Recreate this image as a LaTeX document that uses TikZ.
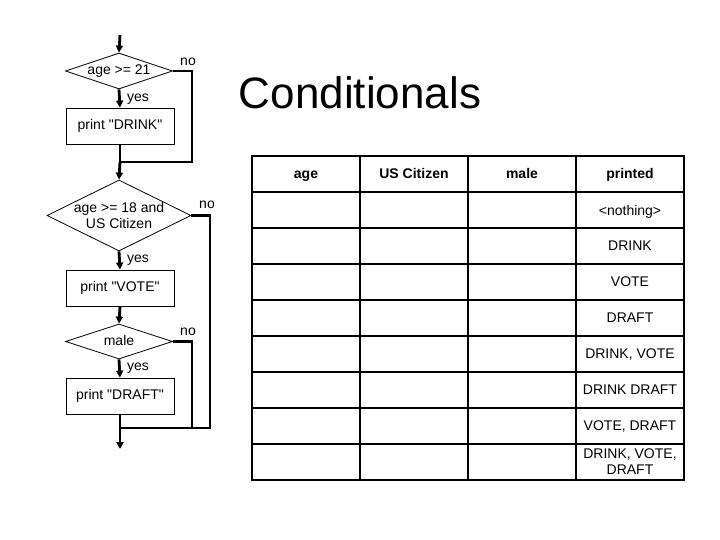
\documentclass[tikz,border=0pt]{standalone}
\usepackage{fontspec}
\setmainfont{Liberation Sans}
\usetikzlibrary{shapes.geometric,arrows.meta}
\begin{document}
\begin{tikzpicture}[x=1pt,y=-1pt,
  txt/.style={font=\fontsize{14}{16}\selectfont, inner sep=0pt, text height=10pt, text depth=3pt},
  txtm/.style={font=\fontsize{14}{16}\selectfont, inner sep=0pt, align=center},
  hdr/.style={font=\bfseries\fontsize{14}{16}\selectfont, inner sep=0pt, text height=10pt, text depth=3pt},
  dec/.style={diamond, draw, line width=0.8pt, inner sep=0pt},
  act/.style={rectangle, draw, line width=0.8pt, minimum width=108pt, minimum height=36pt, inner sep=0pt, font=\fontsize{14}{16}\selectfont},
  flow/.style={line width=2.8pt},
  arr/.style={line width=2.8pt, -{Triangle[length=7pt,width=7pt]}},
  grid/.style={line width=1.6pt}]
\useasboundingbox (0,0) rectangle (720,540);
\fill[white] (0,0) rectangle (720,540);

% title
\node[font=\fontsize{44}{50}\selectfont, inner sep=0pt] (title) at (360,93) {Conditionals};

% flowchart nodes
\coordinate (start) at (120,35);
\node[dec, minimum width=107pt, minimum height=36pt] (d1) at (119,71) {};
\node[txt] (d1t) at (d1) {age >= 21};
\node[act] (b1) at (120,126) {print \textquotedbl DRINK\textquotedbl};
\node[dec, minimum width=144pt, minimum height=71pt] (d2) at (119,215.5) {};
\node[txtm] (d2t) at (d2) {age >= 18 and\\US Citizen};
\node[act] (b2) at (120,288) {print \textquotedbl VOTE\textquotedbl};
\node[dec, minimum width=107pt, minimum height=35pt] (d3) at (119,341.5) {};
\node[txt] (d3t) at (d3) {male};
\node[act] (b3) at (120,396) {print \textquotedbl DRAFT\textquotedbl};
\coordinate (end) at (120,449);

\coordinate (j1) at (120,162);
\coordinate (n1) at (192,71);
\coordinate (n1b) at (192,162);
\coordinate (j3) at (120,428);
\coordinate (n3) at (192,341.5);
\coordinate (n3b) at (192,428);
\coordinate (n2) at (210,215.5);
\coordinate (n2b) at (210,428);

% labels
\node[txt] (no1) at (188,62) {no};
\node[txt] (no2) at (207,205) {no};
\node[txt] (no3) at (188,332) {no};
\node[txt] (yes1) at (138,98) {yes};
\node[txt] (yes2) at (138,259) {yes};
\node[txt] (yes3) at (138,367) {yes};

% connectors
\draw[arr] (start) -- (d1.north);
\draw[arr] (d1.south) -- (b1.north);
\draw[flow] (d1.east) -- (n1) -- (n1b) -- (j1);
\draw[flow] (b1.south) -- (j1);
\draw[arr] (j1) -- (d2.north);
\draw[arr] (d2.south) -- (b2.north);
\draw[arr] (b2.south) -- (d3.north);
\draw[arr] (d3.south) -- (b3.north);
\draw[flow] (d3.east) -- (n3) -- (n3b);
\draw[flow] (d2.east) -- (n2) -- (n2b) -- (j3);
\draw[flow] (b3.south) -- (j3);
\draw[arr] (j3) -- (end);

% table grid
\draw[grid] (252,156) rectangle (684,480);
\foreach \x in {360,468,576} \draw[grid] (\x,156) -- (\x,480);
\foreach \y in {192,228,264,300,336,372,408,444} \draw[grid] (252,\y) -- (684,\y);

% header
\node[hdr] (h1) at (306,175) {age};
\node[hdr] (h2) at (414,175) {US Citizen};
\node[hdr] (h3) at (522,175) {male};
\node[hdr] (h4) at (630,175) {printed};

% printed column
\node[txt] (p1) at (630,212) {<nothing>};
\node[txt] (p2) at (630,247) {DRINK};
\node[txt] (p3) at (630,283) {VOTE};
\node[txt] (p4) at (630,319) {DRAFT};
\node[txt] (p5) at (630,355) {DRINK, VOTE};
\node[txt] (p6) at (630,391) {DRINK DRAFT};
\node[txt] (p7) at (630,427) {VOTE, DRAFT};
\node[txtm] (p8) at (630,462) {DRINK, VOTE,\\DRAFT};
\end{tikzpicture}
\end{document}
